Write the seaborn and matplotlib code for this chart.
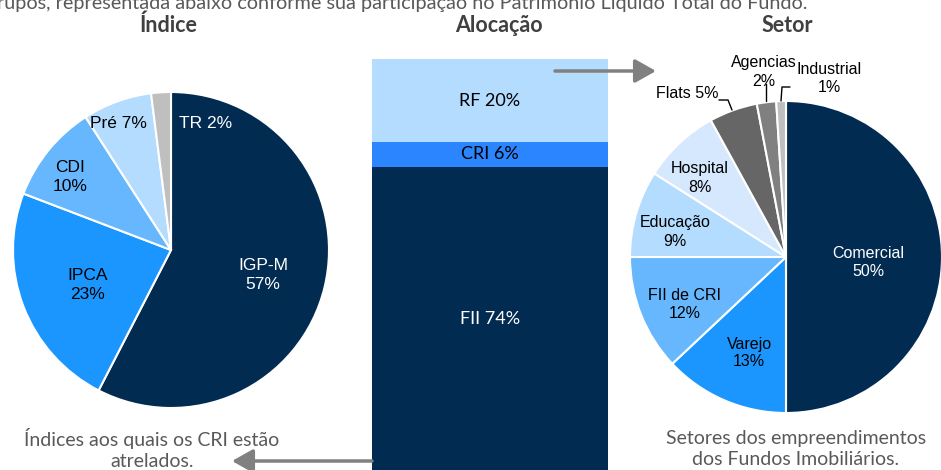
import matplotlib

matplotlib.use("Agg")
import matplotlib.pyplot as plt
import pandas as pd
import seaborn as sns

# --- dados ---
indice_nomes = ["IGP-M", "IPCA", "CDI", "Pré", "TR"]
indice_pct = [57, 23, 10, 7, 2]

alocacao_nomes = ["FII", "CRI", "RF"]
alocacao_pct = [74, 6, 20]

setor_nomes = ["Comercial", "Varejo", "FII de CRI", "Educação", "Hospital",
               "Flats", "Agencias", "Industrial"]
setor_pct = [50, 13, 12, 9, 8, 5, 2, 1]

# --- estilo ---
NAVY = "#022b52"
BLUE = "#1a96fe"
BLUE_CRI = "#2b85fe"
MID = "#66b7fd"
LIGHT = "#b3dcfe"
PALE = "#d5e8fd"
GREY_L = "#bfbfbf"
GREY_M = "#808080"
GREY_D = "#666666"
TXT = "#404040"

indice_cores = [NAVY, BLUE, MID, LIGHT, GREY_L]
alocacao_cores = [NAVY, BLUE_CRI, LIGHT]
setor_cores = [NAVY, BLUE, MID, LIGHT, PALE, GREY_D, GREY_M, GREY_L]

sns.set_theme(style="white")
NARROW = ["Liberation Sans Narrow", "Liberation Sans", "DejaVu Sans"]
CAL = ["Lato", "DejaVu Sans"]
plt.rcParams["font.family"] = CAL

W, H = 941, 470
fig = plt.figure(figsize=(W / 100, H / 100), dpi=100)


def px_axes(cx, cy, r):
    return fig.add_axes([(cx - r) / W, (H - cy - r) / H, 2 * r / W, 2 * r / H])


def draw_pie(ax, valores, cores):
    ax.pie(valores, colors=cores, startangle=90, counterclock=False,
           wedgeprops=dict(edgecolor="white", linewidth=1.5))
    ax.set_xlim(-1, 1)
    ax.set_ylim(-1, 1)
    ax.set_aspect("auto")
    ax.axis("off")


# pizza do índice
ax_ind = px_axes(171, 250, 158)
draw_pie(ax_ind, indice_pct, indice_cores)

# pizza do setor
ax_set = px_axes(786, 257, 156)
draw_pie(ax_set, setor_pct, setor_cores)

# barra empilhada (alocação) desenhada com totais acumulados
ax_bar = fig.add_axes([372 / W, (H - 474) / H, 236 / W, 415 / H])
df = pd.DataFrame({"nome": alocacao_nomes, "pct": alocacao_pct})
df["acum"] = df["pct"].cumsum()
for i in reversed(range(len(df))):
    sns.barplot(x=["Alocação"], y=[df["acum"][i]], color=alocacao_cores[i],
                saturation=1, width=1, linewidth=0, ax=ax_bar)
ax_bar.set_xlim(-0.5, 0.5)
ax_bar.set_ylim(0, df["pct"].sum())
ax_bar.axis("off")

# camada de anotações em pixels
ov = fig.add_axes([0, 0, 1, 1], zorder=5)
ov.set_xlim(0, W)
ov.set_ylim(H, 0)
ov.axis("off")

ov.text(-3, 3, "rupos, representada abaixo conforme sua participação no Patrimônio Líquido Total do Fundo.",
        ha="left", va="center", fontsize=14.3, color="#595959")
for x, t in [(168, "Índice"), (499, "Alocação"), (787, "Setor")]:
    ov.text(x, 25, t, ha="center", va="center", fontsize=15.5,
            fontweight="bold", color=TXT)

# rótulos da barra
bar_pos = [319, 154, 101]
bar_txt_cor = ["white", "black", "black"]
for nome, pct, y, c in zip(alocacao_nomes, alocacao_pct, bar_pos, bar_txt_cor):
    ov.text(490, y, f"{nome} {pct}%", ha="center", va="center",
            fontsize=13, color=c)

# rótulos das pizzas
ind_pos = [(263, 275), (88, 285), (70, 177), (118, 123), (206, 123)]
ind_sep = ["\n", "\n", "\n", " ", " "]
ind_txt_cor = ["white", "black", "black", "black", "white"]
for nome, pct, (x, y), s, c in zip(indice_nomes, indice_pct, ind_pos, ind_sep, ind_txt_cor):
    ov.text(x, y, f"{nome}{s}{pct}%", ha="center", va="center", fontsize=12.5,
            family=NARROW, color=c, linespacing=1.35)

set_pos = [(868, 262), (749, 353), (685, 304), (675, 232), (700, 178),
           (687, 94), (764, 72), (829, 78)]
set_sep = ["\n", "\n", "\n", "\n", "\n", " ", "\n", "\n"]
set_txt_cor = ["white"] + ["black"] * 7
for nome, pct, (x, y), s, c in zip(setor_nomes, setor_pct, set_pos, set_sep, set_txt_cor):
    ov.text(x, y, f"{nome}{s}{pct}%", ha="center", va="center", fontsize=11.5,
            family=NARROW, color=c, linespacing=1.25)

# linhas de chamada
lc = dict(color="black", lw=1)
ov.plot([719, 728, 732], [100, 100, 110], **lc)
ov.plot([766, 766], [84, 101], **lc)
ov.plot([781, 782, 790], [101, 87, 87], **lc)

# setas
seta = dict(arrowstyle="-|>,head_length=0.8,head_width=0.45", color=GREY_M,
            lw=2.5, mutation_scale=16, shrinkA=0, shrinkB=0)
ov.annotate("", xy=(656, 71), xytext=(555, 71), arrowprops=seta)
ov.annotate("", xy=(232, 461), xytext=(372, 461), arrowprops=seta)

# textos de rodapé
ov.text(152, 449, "Índices aos quais os CRI estão\natrelados.", ha="center",
        va="center", fontsize=14, color="#595959", linespacing=1.3)
ov.text(796, 449, "Setores dos empreendimentos\ndos Fundos Imobiliários.", ha="center",
        va="center", fontsize=14, color="#595959", linespacing=1.3)

fig.savefig("out.png", dpi=100)
